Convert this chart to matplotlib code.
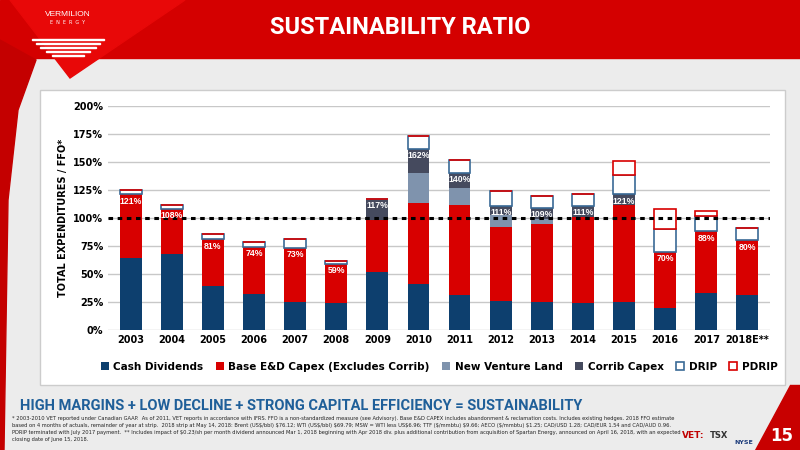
import matplotlib
matplotlib.use("Agg")
import matplotlib.pyplot as plt
from matplotlib.patches import Rectangle, Polygon
import numpy as np

years = ["2003","2004","2005","2006","2007","2008","2009","2010","2011","2012","2013","2014","2015","2016","2017","2018E**"]
cash_div = [64,68,39,32,25,24,52,41,31,26,25,24,25,20,33,31]
base_capex = [57,40,42,42,48,35,46,72,81,66,70,77,87,50,55,49]
new_venture = [0,0,0,0,0,0,0,27,15,11,4,0,0,0,0,0]
corrib = [0,0,0,0,0,0,19,22,13,8,10,10,9,0,0,0]
drip = [4,4,5,5,8,3,0,11,12,13,11,10,17,20,14,11]
pdrip = [0,0,0,0,0,0,0,0,0,0,0,0,13,18,4,0]
ratio_labels = ["121%","108%","81%","74%","73%","59%","117%","162%","140%","111%","109%","111%","121%","70%","88%","80%"]
yticks = [0,25,50,75,100,125,150,175,200]

fig = plt.figure(figsize=(8,4.5), dpi=100)
fig.patch.set_facecolor("#ececec")
W, H = 800, 450
def fx(x): return x/W
def fy(y): return 1-y/H
# header
fig.patches.append(Rectangle((0,fy(58)),1,58/H,transform=fig.transFigure,color="#d40000",zorder=0))
fig.patches.append(Polygon([[fx(10),1],[fx(185),1],[fx(70),fy(78)]],closed=True,transform=fig.transFigure,color="#e80808",zorder=0))
fig.patches.append(Polygon([[0,fy(40)],[fx(36),fy(60)],[fx(18),fy(110)],[fx(8),fy(200)],[fx(4),fy(450)],[0,0]],closed=True,transform=fig.transFigure,color="#c40000",zorder=0))
fig.text(fx(68),fy(14),"VERMILION",color="white",fontsize=6,ha="center",va="center",family="Liberation Sans")
fig.text(fx(68),fy(23),"E  N  E  R  G  Y",color="white",fontsize=3.5,ha="center",va="center")
for i,w in enumerate([36,32,28,22,16]):
    fig.patches.append(Rectangle((fx(68-w),fy(40+i*4)),2*w/W,1.5/H,transform=fig.transFigure,color="white",zorder=1))
fig.text(fx(400),fy(27),"SUSTAINABILITY RATIO",color="white",fontsize=17,fontweight="bold",ha="center",va="center",family="Roboto")
# chart panel
fig.patches.append(Rectangle((fx(40),fy(385)),fx(745),(385-90)/H,transform=fig.transFigure,facecolor="white",edgecolor="#cccccc",zorder=0))

ax = fig.add_axes([fx(108),fy(330),fx(770-108),(330-106)/H])
ax.set_zorder(5)
ax.patch.set_alpha(0)
x = np.arange(len(years))
w = 0.53
b = np.zeros(len(years))
series = [(cash_div,"Cash Dividends","#0d3f6e","#0d3f6e"),
          (base_capex,"Base E&D Capex (Excludes Corrib)","#d80000","#d80000"),
          (new_venture,"New Venture Land","#7f93ad","#7f93ad"),
          (corrib,"Corrib Capex","#454a5e","#454a5e"),
          (drip,"DRIP","white","#3a6a96"),
          (pdrip,"PDRIP","white","#d80000")]
for vals,lab,fc,ec in series:
    v = np.array(vals,float)
    lw = 1.2 if fc=="white" else 0
    ax.bar(x,v,w,bottom=b,color=fc,edgecolor=ec,linewidth=lw,label=lab,zorder=3)
    b += v
tot_main = np.array(cash_div)+np.array(base_capex)+np.array(new_venture)+np.array(corrib)
for i,l in enumerate(ratio_labels):
    ax.text(x[i],tot_main[i]-2,l,color="white",fontsize=6.3,fontweight="bold",ha="center",va="top",zorder=5,family="Liberation Sans")
ax.axhline(100,color="black",linestyle=(0,(1.5,1.5)),linewidth=2.2,zorder=4)
ax.set_ylim(0,200)
ax.set_xlim(-0.55,len(years)-0.45)
ax.set_yticks(yticks)
ax.set_yticklabels([f"{t}%" for t in yticks],fontsize=7,fontweight="bold")
ax.set_xticks(x)
ax.set_xticklabels(years,fontsize=7,fontweight="bold")
ax.grid(axis="y",color="#c8c8c8",linewidth=1,zorder=0)
for s in ax.spines.values(): s.set_visible(False)
ax.tick_params(length=0)
ax.set_ylabel("TOTAL EXPENDITURES / FFO*",fontsize=7,fontweight="bold")
ax.legend(loc="upper center",bbox_to_anchor=(0.5,-0.1),ncol=6,frameon=False,
          prop={"weight":"bold","size":7.5},handlelength=0.8,handletextpad=0.4,columnspacing=1.2)

fig.text(fx(20),fy(406),"HIGH MARGINS + LOW DECLINE + STRONG CAPITAL EFFICIENCY = SUSTAINABILITY",color="#1f5f99",fontsize=10.5,fontweight="bold",va="center",family="Roboto")
foot = ("* 2003-2010 VET reported under Canadian GAAP.  As of 2011, VET reports in accordance with IFRS. FFO is a non-standardized measure (see Advisory). Base E&D CAPEX includes abandonment & reclamation costs. Includes existing hedges. 2018 FFO estimate\n"
        "based on 4 months of actuals, remainder of year at strip.  2018 strip at May 14, 2018: Brent (US$/bbl) $76.12; WTI (US$/bbl) $69.79; MSW = WTI less US$6.96; TTF ($/mmbtu) $9.66; AECO ($/mmbtu) $1.25; CAD/USD 1.28; CAD/EUR 1.54 and CAD/AUD 0.96.\n"
        "PDRIP terminated with July 2017 payment.  ** Includes impact of $0.23/sh per month dividend announced Mar 1, 2018 beginning with Apr 2018 div. plus additional contribution from acquisition of Spartan Energy, announced on April 16, 2018, with an expected\n"
        "closing date of June 15, 2018.")
fig.text(fx(12),fy(416),foot,fontsize=3.7,va="top",linespacing=1.5,color="#222222",family="Liberation Sans Narrow")
fig.patches.append(Polygon([[fx(755),0],[1,0],[1,fy(385)],[fx(790),fy(385)]],closed=True,transform=fig.transFigure,color="#c80000",zorder=0))
fig.text(fx(693),fy(436),"VET:",color="#c00000",fontsize=6.5,fontweight="bold",ha="center",va="center")
fig.text(fx(719),fy(436),"TSX",color="#333333",fontsize=6,fontweight="bold",ha="center",va="center")
fig.text(fx(744),fy(442),"NYSE",color="#1a3a7a",fontsize=4.5,fontweight="bold",ha="center",va="center")
fig.text(fx(782),fy(436),"15",color="white",fontsize=12,fontweight="bold",ha="center",va="center")
fig.savefig("out.png",dpi=100,facecolor=fig.get_facecolor())
